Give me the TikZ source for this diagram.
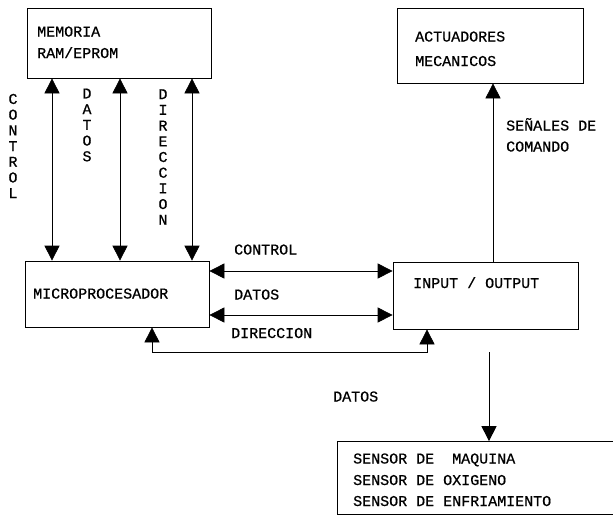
\documentclass[tikz,border=0pt]{standalone}
\usepackage{fontspec}
\setmonofont[FakeBold=0.7]{Liberation Mono}
\usetikzlibrary{arrows.meta}
\begin{document}
\begin{tikzpicture}[x=1pt,y=-1pt,
  txt/.style={font=\ttfamily\fontsize{15}{16}\selectfont, anchor=base west, inner sep=0pt},
  vtxt/.style={font=\ttfamily\fontsize{15}{15.7}\selectfont, align=center, inner sep=0pt},
  blk/.style={draw, line width=0.7pt, inner sep=0pt},
  tip/.tip={Triangle[length=15pt,width=15pt]},
  both/.style={line width=0.7pt, tip-tip},
  fwd/.style={line width=0.7pt, -tip}]
\useasboundingbox (0,0) rectangle (613,517);

% blocks
\node[blk, minimum width=184pt, minimum height=70pt] (mem) at (119,43) {};
\node[blk, minimum width=186pt, minimum height=75pt] (act) at (490,45.5) {};
\node[blk, minimum width=184pt, minimum height=66pt] (mic) at (117,294) {};
\node[blk, minimum width=185pt, minimum height=67pt] (io)  at (485.5,295.5) {};
\node[blk, minimum width=294pt, minimum height=73pt] (sen) at (484,478) {};

% block texts
\node[txt] (tmem1) at (37,36.5) {MEMORIA};
\node[txt] (tmem2) at (37,58) {RAM/EPROM};
\node[txt] (tact1) at (415,41.5) {ACTUADORES};
\node[txt] (tact2) at (415,66) {MECANICOS};
\node[txt] (tmic) at (33,298.5) {MICROPROCESADOR};
\node[txt] (tio) at (413,288) {INPUT / OUTPUT};
\node[txt] (tsen1) at (353,463.5) {SENSOR DE\ \ MAQUINA};
\node[txt] (tsen2) at (353,485) {SENSOR DE OXIGENO};
\node[txt] (tsen3) at (353,506) {SENSOR DE ENFRIAMIENTO};

% guide positions for the connectors
\coordinate (xa) at (52,0);
\coordinate (xb) at (120,0);
\coordinate (xc) at (192,0);
\coordinate (yc) at (0,271);
\coordinate (yd) at (0,315);
\coordinate (dl) at (152,352);
\coordinate (dr) at (427,352);
\coordinate (xq) at (493,0);
\coordinate (sin) at (489,352);

% memory bus
\draw[both] (mem.south -| xa) -- (mic.north -| xa);
\draw[both] (mem.south -| xb) -- (mic.north -| xb);
\draw[both] (mem.south -| xc) -- (mic.north -| xc);
\node[vtxt] (lc) at (13,146) {C\\O\\N\\T\\R\\O\\L};
\node[vtxt] (ld) at (87,125) {D\\A\\T\\O\\S};
\node[vtxt] (lr) at (163,157) {D\\I\\R\\E\\C\\C\\I\\O\\N};

% processor to I/O
\draw[both] (mic.east |- yc) -- (io.west |- yc);
\draw[both] (mic.east |- yd) -- (io.west |- yd);
\draw[both] (mic.south -| dl) -- (dl) -- (dr) -- (io.south -| dr);
\node[txt] (lhc) at (234,254.5) {CONTROL};
\node[txt] (lhd) at (234,299.5) {DATOS};
\node[txt] (lhr) at (231,338) {DIRECCION};

% command signals and sensor data
\draw[fwd] (io.north -| xq) -- (act.south -| xq);
\node[txt] (ls1) at (506,130.5) {SEÑALES DE};
\node[txt] (ls2) at (506,151.5) {COMANDO};
\draw[fwd] (sin) -- (sen.north -| sin);
\node[txt] (lsd) at (333,401.5) {DATOS};
\end{tikzpicture}
\end{document}
